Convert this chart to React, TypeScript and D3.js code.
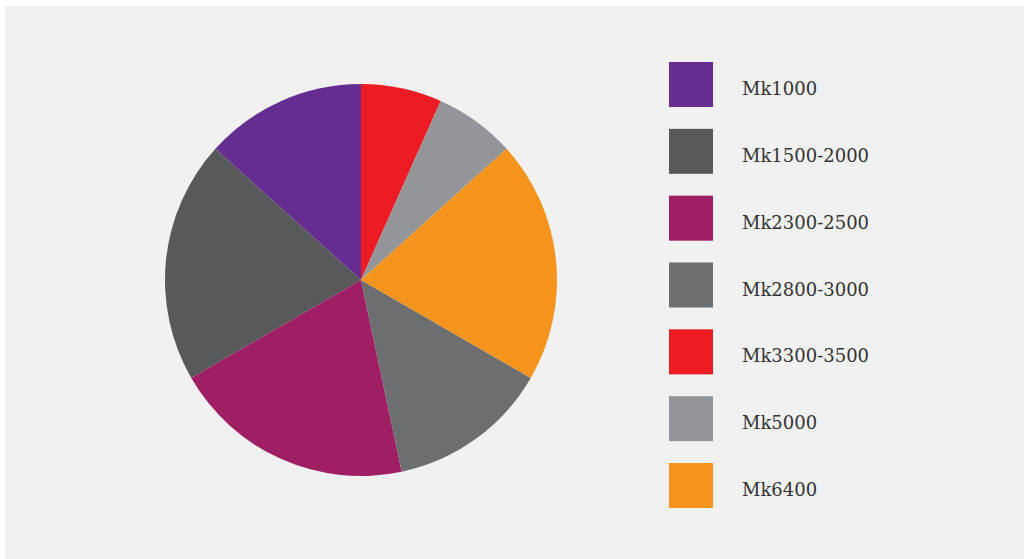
import React from "react";
import * as d3 from "d3";

const categories = ["Mk1000", "Mk1500-2000", "Mk2300-2500", "Mk2800-3000", "Mk3300-3500", "Mk5000", "Mk6400"];
const values = [2, 3, 3, 2, 1, 1, 3];
const colors = ["#652d90", "#58595b", "#9e1f63", "#6d6e70", "#ed1c24", "#939598", "#f7941d"];
// clockwise order of slices starting at 12 o'clock
const sliceOrder = ["Mk3300-3500", "Mk5000", "Mk6400", "Mk2800-3000", "Mk2300-2500", "Mk1500-2000", "Mk1000"];

export default function App() {
  const W = 1024, H = 559;
  const cx = 361, cy = 280, r = 196;
  const data = categories.map((c, i) => ({ c, v: values[i], col: colors[i] }));
  const pie = d3
    .pie<any>()
    .value((d) => d.v)
    .sort((a, b) => sliceOrder.indexOf(a.c) - sliceOrder.indexOf(b.c));
  const arcs = pie(data);
  const arc = d3.arc<any>().innerRadius(0).outerRadius(r);
  const y = d3.scaleLinear().domain([0, categories.length - 1]).range([62, 463]);
  return (
    <svg width={W} height={H} style={{ position: "absolute", left: 0, top: 0 }}>
      <rect x={5} y={6} width={W - 5} height={H - 6} fill="#f1f1f1" />
      <g transform={`translate(${cx},${cy})`}>
        {arcs.map((a, i) => (
          <path key={i} d={arc(a) as string} fill={a.data.col} />
        ))}
      </g>
      {data.map((d, i) => (
        <g key={d.c}>
          <rect x={669} y={y(i)} width={44} height={45} fill={d.col} />
          <text x={742} y={y(i) + 33} fontFamily="DejaVu Serif" fontSize={18} fill="#333" textLength={d.c.length > 6 ? undefined : undefined}>
            {d.c}
          </text>
        </g>
      ))}
    </svg>
  );
}
